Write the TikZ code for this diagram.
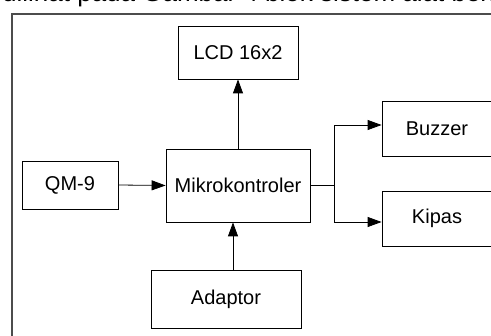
\documentclass[tikz,border=0pt]{standalone}
\usepackage{fontspec}
\setmainfont{Liberation Sans}
\usetikzlibrary{arrows.meta}
\begin{document}
\begin{tikzpicture}[x=1pt,y=-1pt,
  blk/.style={draw=black, line width=0.8pt, rectangle, inner sep=0pt, font=\fontsize{20}{24}\selectfont},
  arr/.style={line width=0.8pt, -{Triangle[length=14pt,width=10pt]}},
  ln/.style={line width=0.8pt},
  frame/.style={draw=black!70, line width=1.1pt}]
\useasboundingbox (0,0) rectangle (491,336);
\clip (0,0) rectangle (491,336);
\fill[white] (0,0) rectangle (491,336);
% clipped line of page text above the figure
\node[anchor=base west, inner sep=0pt, font=\fontsize{26}{32}\selectfont, text=black] (pagetext) at (2,2) {dilihat pada Gambar 4 blok sistem alat berikut};
% figure frame
\coordinate (ftr) at (495,14);
\coordinate (ftl) at (12,14);
\coordinate (fbl) at (12,340);
\draw[frame] (ftr) -- (ftl) -- (fbl);
% blocks
\node[blk, minimum width=120pt, minimum height=53pt] (lcd) at (238,52.5) {LCD 16x2};
\node[blk, minimum width=96pt, minimum height=48pt] (qm) at (70,185) {QM-9};
\node[blk, minimum width=144pt, minimum height=73pt] (mcu) at (238,185.5) {Mikrokontroler};
\node[blk, minimum width=110pt, minimum height=55pt] (buz) at (437,128.5) {Buzzer};
\node[blk, minimum width=110pt, minimum height=55pt] (kip) at (437,218.5) {Kipas};
\node[blk, minimum width=150pt, minimum height=58pt] (adp) at (226,299) {Adaptor};
% connectors
\draw[arr] (qm.east) -- (mcu.west);
\draw[arr] (mcu.north) -- (lcd.south);
\draw[arr] ([xshift=7pt]adp.north) -- ([xshift=7pt]adp.north |- mcu.south);
\coordinate (br) at (334,185.5);
\draw[ln] (mcu.east) -- (br);
\draw[arr] (br) |- ([yshift=3.5pt]buz.west);
\draw[arr] (br) |- ([yshift=-3.5pt]kip.west);
\end{tikzpicture}
\end{document}
